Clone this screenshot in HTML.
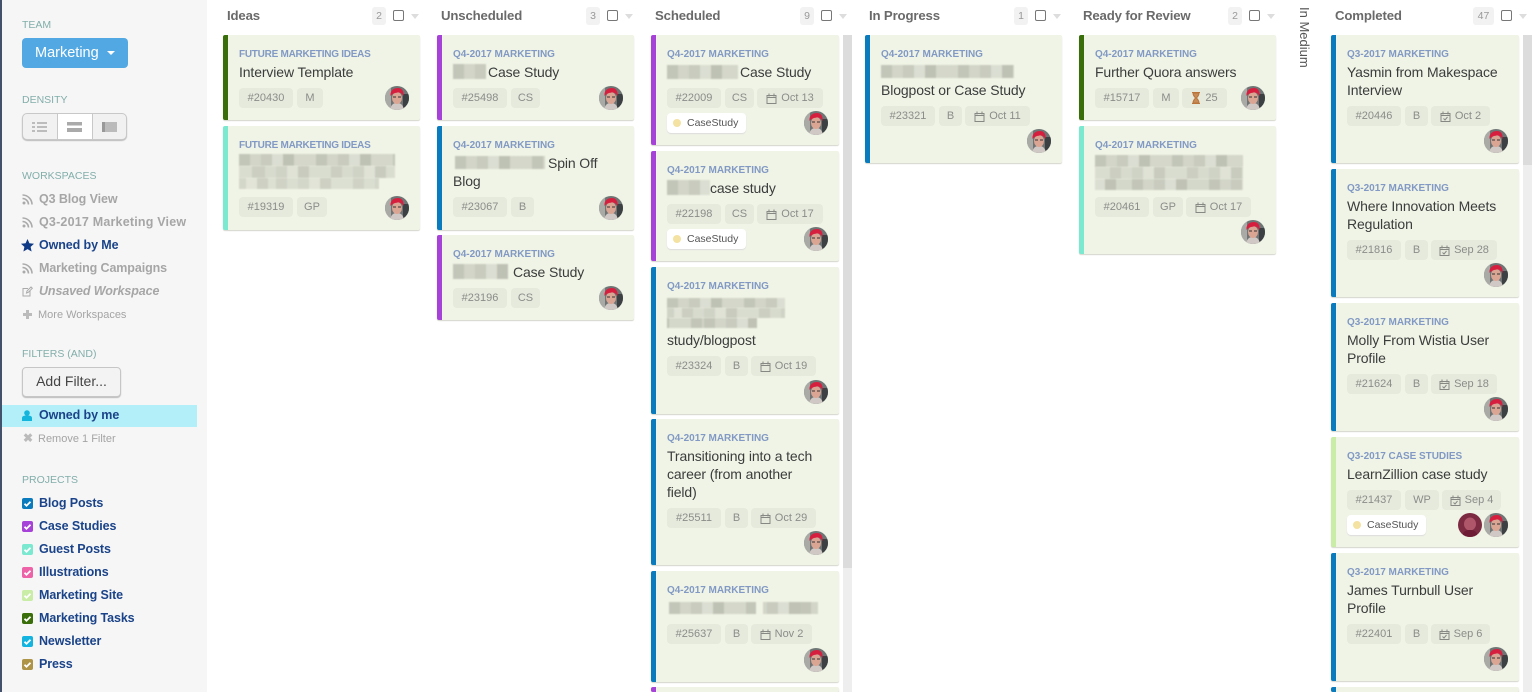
<!DOCTYPE html>
<html><head><meta charset="utf-8"><title>Board</title>
<style>
*{box-sizing:border-box}
html,body{margin:0;padding:0;width:1540px;height:692px;overflow:hidden;background:#fff;font-family:"Liberation Sans",sans-serif}
#root{position:relative;width:1540px;height:692px;overflow:hidden}
.a{position:absolute}
#side{position:absolute;left:0;top:0;width:207px;height:692px;background:#f6f6f6;border-left:2px solid #43526a}
.h{position:absolute;left:22px;font-size:10.5px;line-height:12px;color:#82aeaa;white-space:nowrap}
.w{position:absolute;left:39px;font-size:12.5px;line-height:16px;font-weight:bold;color:#a6a6a6;white-space:nowrap;letter-spacing:-.1px}
.s{position:absolute;left:38px;font-size:11px;line-height:14px;color:#a4a4a4;white-space:nowrap}
.p{position:absolute;left:39px;font-size:12.5px;line-height:16px;font-weight:bold;color:#1a4389;white-space:nowrap;letter-spacing:-.1px}
.cb{position:absolute;left:22px;width:11px;height:11px;border-radius:2px;color:#fff}
.cb svg{display:block}
.ic{position:absolute;left:22px;width:11px;height:11px}
.t{position:absolute;top:8px;font-size:13.2px;line-height:16px;font-weight:bold;color:#6a6a6a;white-space:nowrap;letter-spacing:-.15px}
.n{position:absolute;top:7px;height:18px;background:#f2f2f2;border-radius:3px;color:#999;font-size:10.5px;line-height:18px;text-align:center}
.x{position:absolute;top:10px;width:11px;height:11px;border:1px solid #777;border-radius:2px;background:#fff}
.d{position:absolute;top:14px;width:0;height:0;border-left:4.5px solid transparent;border-right:4.5px solid transparent;border-top:5px solid #ddd}
.c{position:absolute;background:#f0f4e6;border-left:5px solid #0a7bbd;border-radius:2px;box-shadow:0 1px 1px #d4d6cc;overflow:hidden}
.l{position:absolute;left:11px;top:14px;font-size:10px;line-height:12px;font-weight:bold;color:#8199c4;white-space:nowrap;letter-spacing:-.02px}
.l.f{letter-spacing:-.26px}
.m{position:absolute;left:11px;top:28px;width:178px;font-size:14px;line-height:18px;color:#3a3d3c;letter-spacing:-.12px}
.r{position:absolute;left:11px;display:flex;gap:4px}
.k{height:20px;background:#e6eadd;border-radius:4px;color:#8a8d88;font-size:11px;line-height:20px;text-align:center;white-space:nowrap;display:flex;align-items:center;justify-content:center;gap:4px}
.k:nth-child(3){margin-left:-1px}
.k svg{flex:none}
.g{position:absolute;left:11px;width:79px;height:20px;background:#fff;border-radius:4px;box-shadow:0 1px 1px #ddd;font-size:10.5px;line-height:20px;color:#555;padding-left:20px}
.g:before{content:"";position:absolute;left:6px;top:6px;width:8px;height:8px;border-radius:50%;background:#f4e2a2}
.v{position:absolute;right:11px;bottom:10px;width:24px;height:24px}
.b{position:absolute;filter:blur(.9px);background-color:#d9dccf;background-image:repeating-linear-gradient(90deg,rgba(120,125,112,.24) 0 11px,rgba(120,125,112,.08) 11px 22px,rgba(120,125,112,.18) 22px 33px,rgba(255,255,255,.06) 33px 44px,rgba(120,125,112,.28) 44px 55px,rgba(120,125,112,.05) 55px 77px)}
.b2{background-position:15px 0;opacity:.8}
.b3{background-position:37px 0}
</style></head>
<body>
<div id="root">
<svg width="0" height="0" style="position:absolute">
<defs>
<clipPath id="cl"><circle cx="12" cy="12" r="12"/></clipPath>
<symbol id="av" viewBox="0 0 24 24"><g clip-path="url(#cl)"><rect width="24" height="24" fill="#6f7574"/><rect x="0" y="0" width="6" height="24" fill="#a9aaa6"/><rect x="18" y="8" width="6" height="16" fill="#3c4042"/><path d="M5 24c1-6 4-7 7-7s6 1 7 7z" fill="#cfc8c4"/><ellipse cx="12" cy="12" rx="5" ry="6" fill="#dba594"/><path d="M5.500 10C5 4 9 2 13 2s6 3 5.500 8c-2-3-4-4-6-3.500C10 7 7.500 7.500 5.500 10z" fill="#d61f3f"/><path d="M8 11h3M13 11h3" stroke="#333" stroke-width="1"/></g></symbol>
<symbol id="av2" viewBox="0 0 24 24"><g clip-path="url(#cl)"><rect width="24" height="24" fill="#7c2b42"/><ellipse cx="12" cy="11" rx="6" ry="6.500" fill="#b0566b"/><path d="M4 24c1-6 4-7 8-7s7 1 8 7z" fill="#6e1c35"/></g></symbol>
<symbol id="rs" viewBox="0 0 11 11"><circle cx="2" cy="9" r="1.500" fill="#aaa"/><path d="M.5 4.500A6 6 0 0 1 6.500 10.500M.5 1A9.500 9.500 0 0 1 10 10.500" fill="none" stroke="#aaa" stroke-width="1.600"/></symbol>
<symbol id="ca" viewBox="0 0 11 11"><path d="M1 2.500h9v8H1zM3 .5v3M8 .5v3M1 4.500h9" fill="none" stroke="#858883" stroke-width="1"/></symbol>
<symbol id="cc" viewBox="0 0 11 11"><path d="M1 2.500h9v8H1zM3 .5v3M8 .5v3M1 4.500h9M3.500 7.500l1.500 1.500 2.500-3" fill="none" stroke="#858883" stroke-width="1"/></symbol>
<symbol id="ck" viewBox="0 0 11 11"><path d="M2.500 5.700l2 2 4-4" fill="none" stroke="#fff" stroke-width="1.800"/></symbol>
</defs>
</svg>

<div id="side"></div>
<div class="h" style="top:19px">TEAM</div>
<div class="a" style="left:22px;top:38px;width:106px;height:30px;background:#52a8e2;border-radius:4px;color:#fff;font-size:14.5px;line-height:30px;padding-left:13px">Marketing<span class="a" style="left:85px;top:13px;border-left:4px solid transparent;border-right:4px solid transparent;border-top:4px solid #fff"></span></div>
<div class="h" style="top:94px">DENSITY</div>
<div class="a" style="left:22px;top:113px;width:105px;height:27px;background:#f1f1f1;border:1px solid #c8c8c8;border-radius:5px;box-shadow:0 1px 1px #bbb"></div>
<div class="a" style="left:57px;top:113px;width:36px;height:27px;background:#fff;border:1px solid #c8c8c8;border-width:1px"></div>
<svg class="a" style="left:32px;top:122px" width="85" height="11"><path d="M0 1h3M5 1h10M0 5h3M5 5h10M0 9h3M5 9h10" stroke="#aaa" stroke-width="1.500"/><rect x="35" y="0" width="15" height="3.500" fill="#aaa"/><rect x="35" y="6" width="15" height="4" fill="#aaa"/><rect x="70" y="0" width="15" height="10" fill="#bbb"/><rect x="70" y="0" width="3" height="10" fill="#999"/></svg>

<div class="h" style="top:170px">WORKSPACES</div>
<svg class="ic" style="top:194px"><use href="#rs"/></svg><div class="w" style="top:191px">Q3 Blog View</div>
<svg class="ic" style="top:217px"><use href="#rs"/></svg><div class="w" style="top:214px;letter-spacing:.2px">Q3-2017 Marketing View</div>
<svg class="a" style="left:21px;top:239px" width="13" height="13" viewBox="0 0 13 13"><path d="M6.500 0l1.900 4.300 4.600.5-3.400 3.100 1 4.600-4.100-2.400-4.100 2.400 1-4.600L0 4.800l4.600-.5z" fill="#0f3a85"/></svg><div class="p" style="top:237px">Owned by Me</div>
<svg class="ic" style="top:263px"><use href="#rs"/></svg><div class="w" style="top:260px">Marketing Campaigns</div>
<svg class="ic" style="top:286px" viewBox="0 0 11 11"><path d="M8 5v5H1V2.500h5M4.500 7l.5-2L9 1l1.300 1.300-4 4z" fill="none" stroke="#aaa" stroke-width="1"/></svg><div class="w" style="top:283px;font-style:italic">Unsaved Workspace</div>
<div class="a" style="left:23px;top:310px;width:9px;height:9px;background:linear-gradient(#bbb,#bbb) center/9px 3px no-repeat,linear-gradient(#bbb,#bbb) center/3px 9px no-repeat"></div><div class="s" style="top:308px">More Workspaces</div>

<div class="h" style="top:348px">FILTERS (AND)</div>
<div class="a" style="left:22px;top:367px;width:99px;height:30px;background:#f3f3f3;border:1px solid #c6c6c6;border-radius:4px;box-shadow:0 1px 1px #bbb;font-size:14px;line-height:27px;text-align:center;color:#444">Add Filter...</div>
<div class="a" style="left:2px;top:405px;width:195px;height:22px;background:#b2eff8"></div>
<svg class="a" style="left:22px;top:410px" width="10" height="11" viewBox="0 0 10 11"><circle cx="5" cy="3" r="2.800" fill="#13b5dc"/><path d="M0 11V8c0-2 2-2.500 5-2.500S10 6 10 8v3z" fill="#13b5dc"/></svg>
<div class="p" style="top:407px">Owned by me</div>
<div class="a" style="left:23px;top:434px;width:9px;height:9px;color:#bbb;font-size:12px;line-height:9px;font-weight:bold">✖</div><div class="s" style="top:432px">Remove 1 Filter</div>

<div class="h" style="top:474px">PROJECTS</div>
<div class="cb" style="top:498px;background:#0a7bbd"><svg width="11" height="11"><use href="#ck"/></svg></div><div class="p" style="top:495px">Blog Posts</div>
<div class="cb" style="top:521px;background:#a742d8"><svg width="11" height="11"><use href="#ck"/></svg></div><div class="p" style="top:518px">Case Studies</div>
<div class="cb" style="top:544px;background:#7be8d0"><svg width="11" height="11"><use href="#ck"/></svg></div><div class="p" style="top:541px">Guest Posts</div>
<div class="cb" style="top:567px;background:#ee62a8"><svg width="11" height="11"><use href="#ck"/></svg></div><div class="p" style="top:564px">Illustrations</div>
<div class="cb" style="top:590px;background:#c9eca6"><svg width="11" height="11"><use href="#ck"/></svg></div><div class="p" style="top:587px">Marketing Site</div>
<div class="cb" style="top:613px;background:#3a6e0b"><svg width="11" height="11"><use href="#ck"/></svg></div><div class="p" style="top:610px">Marketing Tasks</div>
<div class="cb" style="top:636px;background:#13b5e0"><svg width="11" height="11"><use href="#ck"/></svg></div><div class="p" style="top:633px">Newsletter</div>
<div class="cb" style="top:659px;background:#ae9447"><svg width="11" height="11"><use href="#ck"/></svg></div><div class="p" style="top:656px">Press</div>

<!-- Headers -->
<div class="t" style="left:227px">Ideas</div><div class="n" style="left:372px;width:14px">2</div><div class="x" style="left:393px"></div><div class="d" style="left:411px"></div>
<div class="t" style="left:441px">Unscheduled</div><div class="n" style="left:586px;width:14px">3</div><div class="x" style="left:607px"></div><div class="d" style="left:625px"></div>
<div class="t" style="left:655px">Scheduled</div><div class="n" style="left:800px;width:14px">9</div><div class="x" style="left:821px"></div><div class="d" style="left:839px"></div>
<div class="t" style="left:869px">In Progress</div><div class="n" style="left:1014px;width:14px">1</div><div class="x" style="left:1035px"></div><div class="d" style="left:1053px"></div>
<div class="t" style="left:1083px">Ready for Review</div><div class="n" style="left:1228px;width:14px">2</div><div class="x" style="left:1249px"></div><div class="d" style="left:1267px"></div>
<div class="a" style="left:1297px;top:7px;font-size:13px;line-height:14px;color:#555;writing-mode:vertical-rl;white-space:nowrap">In Medium</div>
<div class="t" style="left:1335px">Completed</div><div class="n" style="left:1473px;width:21px">47</div><div class="x" style="left:1501px"></div><div class="d" style="left:1519px"></div>

<!-- Scrollbars -->
<div class="a" style="left:843px;top:35px;width:9px;height:657px;background:#eeeeee"></div>
<div class="a" style="left:843px;top:35px;width:9px;height:533px;background:#dcdcdc"></div>
<div class="a" style="left:1523px;top:35px;width:9px;height:657px;background:#eeeeee"></div>
<div class="a" style="left:1523px;top:35px;width:9px;height:130px;background:#dcdcdc"></div>

<!-- Ideas -->
<div class="c" style="left:223px;top:35px;width:197px;height:85px;border-left-color:#3a6e0b"><div class="l f">FUTURE MARKETING IDEAS</div><div class="m">Interview Template</div><div class="r" style="top:53px"><div class="k" style="width:54px">#20430</div><div class="k" style="width:26px">M</div></div><svg class="v"><use href="#av"/></svg></div>
<div class="c" style="left:223px;top:126px;width:197px;height:104px;border-left-color:#7be8d0"><div class="l f">FUTURE MARKETING IDEAS</div><div class="b" style="left:11px;top:28px;width:156px;height:12px"></div><div class="b b2" style="left:11px;top:40px;width:156px;height:12px"></div><div class="b b3" style="left:11px;top:52px;width:140px;height:11px;opacity:.7"></div><div class="r" style="top:71px"><div class="k" style="width:54px">#19319</div><div class="k" style="width:30px">GP</div></div><svg class="v"><use href="#av"/></svg></div>

<!-- Unscheduled -->
<div class="c" style="left:437px;top:35px;width:197px;height:85px;border-left-color:#a742d8"><div class="l">Q4-2017 MARKETING</div><div class="b" style="left:11px;top:29px;width:33px;height:15px"></div><div class="m" style="left:46px;width:140px">Case Study</div><div class="r" style="top:53px"><div class="k" style="width:54px">#25498</div><div class="k" style="width:29px">CS</div></div><svg class="v"><use href="#av"/></svg></div>
<div class="c" style="left:437px;top:126px;width:197px;height:104px"><div class="l">Q4-2017 MARKETING</div><div class="b" style="left:13px;top:30px;width:90px;height:13px"></div><div class="m" style="left:106px;width:90px">Spin Off</div><div class="m" style="top:46px">Blog</div><div class="r" style="top:71px"><div class="k" style="width:54px">#23067</div><div class="k" style="width:23px">B</div></div><svg class="v"><use href="#av"/></svg></div>
<div class="c" style="left:437px;top:235px;width:197px;height:85px;border-left-color:#a742d8"><div class="l">Q4-2017 MARKETING</div><div class="b" style="left:11px;top:29px;width:55px;height:15px"></div><div class="m" style="left:71px;width:120px">Case Study</div><div class="r" style="top:53px"><div class="k" style="width:54px">#23196</div><div class="k" style="width:29px">CS</div></div><svg class="v"><use href="#av"/></svg></div>

<!-- Scheduled -->
<div class="c" style="left:651px;top:35px;width:188px;height:110px;border-left-color:#a742d8"><div class="l">Q4-2017 MARKETING</div><div class="b" style="left:11px;top:30px;width:71px;height:14px"></div><div class="m" style="left:84px;width:100px">Case Study</div><div class="r" style="top:53px"><div class="k" style="width:54px">#22009</div><div class="k" style="width:29px">CS</div><div class="k" style="width:66px"><svg width="11" height="11"><use href="#ca"/></svg>Oct 13</div></div><div class="g" style="top:78px">CaseStudy</div><svg class="v"><use href="#av"/></svg></div>
<div class="c" style="left:651px;top:151px;width:188px;height:110px;border-left-color:#a742d8"><div class="l">Q4-2017 MARKETING</div><div class="b" style="left:11px;top:29px;width:43px;height:15px"></div><div class="m" style="left:54px;width:125px">case study</div><div class="r" style="top:53px"><div class="k" style="width:54px">#22198</div><div class="k" style="width:29px">CS</div><div class="k" style="width:66px"><svg width="11" height="11"><use href="#ca"/></svg>Oct 17</div></div><div class="g" style="top:78px">CaseStudy</div><svg class="v"><use href="#av"/></svg></div>
<div class="c" style="left:651px;top:267px;width:188px;height:147px"><div class="l">Q4-2017 MARKETING</div><div class="b" style="left:11px;top:31px;width:118px;height:10px"></div><div class="b b2" style="left:11px;top:41px;width:118px;height:10px"></div><div class="b b3" style="left:11px;top:51px;width:90px;height:10px"></div><div class="m" style="top:64px">study/blogpost</div><div class="r" style="top:89px"><div class="k" style="width:54px">#23324</div><div class="k" style="width:23px">B</div><div class="k" style="width:65px"><svg width="11" height="11"><use href="#ca"/></svg>Oct 19</div></div><svg class="v"><use href="#av"/></svg></div>
<div class="c" style="left:651px;top:419px;width:188px;height:146px"><div class="l">Q4-2017 MARKETING</div><div class="m" style="width:172px">Transitioning into a tech<br>career (from another<br>field)</div><div class="r" style="top:89px"><div class="k" style="width:54px">#25511</div><div class="k" style="width:23px">B</div><div class="k" style="width:65px"><svg width="11" height="11"><use href="#ca"/></svg>Oct 29</div></div><svg class="v"><use href="#av"/></svg></div>
<div class="c" style="left:651px;top:571px;width:188px;height:111px"><div class="l">Q4-2017 MARKETING</div><div class="b" style="left:13px;top:31px;width:87px;height:12px"></div><div class="b b3" style="left:107px;top:31px;width:55px;height:12px"></div><div class="r" style="top:53px"><div class="k" style="width:54px">#25637</div><div class="k" style="width:23px">B</div><div class="k" style="width:61px"><svg width="11" height="11"><use href="#ca"/></svg>Nov 2</div></div><svg class="v"><use href="#av"/></svg></div>
<div class="c" style="left:651px;top:687px;width:188px;height:5px;border-left-color:#a742d8"></div>

<!-- In Progress -->
<div class="c" style="left:865px;top:35px;width:197px;height:128px"><div class="l">Q4-2017 MARKETING</div><div class="b" style="left:11px;top:30px;width:133px;height:13px"></div><div class="m" style="top:46px">Blogpost or Case Study</div><div class="r" style="top:71px"><div class="k" style="width:54px">#23321</div><div class="k" style="width:23px">B</div><div class="k" style="width:65px"><svg width="11" height="11"><use href="#ca"/></svg>Oct 11</div></div><svg class="v"><use href="#av"/></svg></div>

<!-- Ready for Review -->
<div class="c" style="left:1079px;top:35px;width:197px;height:85px;border-left-color:#3a6e0b"><div class="l">Q4-2017 MARKETING</div><div class="m">Further Quora answers</div><div class="r" style="top:53px"><div class="k" style="width:54px">#15717</div><div class="k" style="width:26px">M</div><div class="k" style="width:45px"><svg width="10" height="12" viewBox="0 0 10 12"><path d="M1 .5h8M1 11.500h8M2 1c0 3 2 4 2.500 5C4 7 2 8 2 11h6c0-3-2-4-2.500-5C6 5 8 4 8 1z" fill="#c98a55" stroke="#b9743c" stroke-width="1"/></svg>25</div></div><svg class="v"><use href="#av"/></svg></div>
<div class="c" style="left:1079px;top:126px;width:197px;height:128px;border-left-color:#7be8d0"><div class="l">Q4-2017 MARKETING</div><div class="b" style="left:11px;top:29px;width:148px;height:12px"></div><div class="b b2" style="left:11px;top:41px;width:148px;height:12px"></div><div class="b b3" style="left:11px;top:53px;width:148px;height:11px"></div><div class="r" style="top:71px"><div class="k" style="width:54px">#20461</div><div class="k" style="width:30px">GP</div><div class="k" style="width:65px"><svg width="11" height="11"><use href="#ca"/></svg>Oct 17</div></div><svg class="v"><use href="#av"/></svg></div>

<!-- Completed -->
<div class="c" style="left:1331px;top:35px;width:188px;height:128px"><div class="l">Q3-2017 MARKETING</div><div class="m">Yasmin from Makespace Interview</div><div class="r" style="top:71px"><div class="k" style="width:54px">#20446</div><div class="k" style="width:23px">B</div><div class="k" style="width:59px"><svg width="11" height="11"><use href="#cc"/></svg>Oct 2</div></div><svg class="v"><use href="#av"/></svg></div>
<div class="c" style="left:1331px;top:169px;width:188px;height:128px"><div class="l">Q3-2017 MARKETING</div><div class="m">Where Innovation Meets Regulation</div><div class="r" style="top:71px"><div class="k" style="width:54px">#21816</div><div class="k" style="width:23px">B</div><div class="k" style="width:66px"><svg width="11" height="11"><use href="#cc"/></svg>Sep 28</div></div><svg class="v"><use href="#av"/></svg></div>
<div class="c" style="left:1331px;top:303px;width:188px;height:128px"><div class="l">Q3-2017 MARKETING</div><div class="m">Molly From Wistia User Profile</div><div class="r" style="top:71px"><div class="k" style="width:54px">#21624</div><div class="k" style="width:23px">B</div><div class="k" style="width:66px"><svg width="11" height="11"><use href="#cc"/></svg>Sep 18</div></div><svg class="v"><use href="#av"/></svg></div>
<div class="c" style="left:1331px;top:437px;width:188px;height:110px;border-left-color:#c9eca6"><div class="l">Q3-2017 CASE STUDIES</div><div class="m">LearnZillion case study</div><div class="r" style="top:53px"><div class="k" style="width:54px">#21437</div><div class="k" style="width:34px">WP</div><div class="k" style="width:59px"><svg width="11" height="11"><use href="#cc"/></svg>Sep 4</div></div><div class="g" style="top:78px">CaseStudy</div><svg class="v"><use href="#av"/></svg><svg class="v" style="right:37px"><use href="#av2"/></svg></div>
<div class="c" style="left:1331px;top:553px;width:188px;height:128px"><div class="l">Q3-2017 MARKETING</div><div class="m">James Turnbull User<br>Profile</div><div class="r" style="top:71px"><div class="k" style="width:54px">#22401</div><div class="k" style="width:23px">B</div><div class="k" style="width:59px"><svg width="11" height="11"><use href="#cc"/></svg>Sep 6</div></div><svg class="v"><use href="#av"/></svg></div>
<div class="c" style="left:1331px;top:687px;width:188px;height:5px"></div>
</div>
</body></html>
